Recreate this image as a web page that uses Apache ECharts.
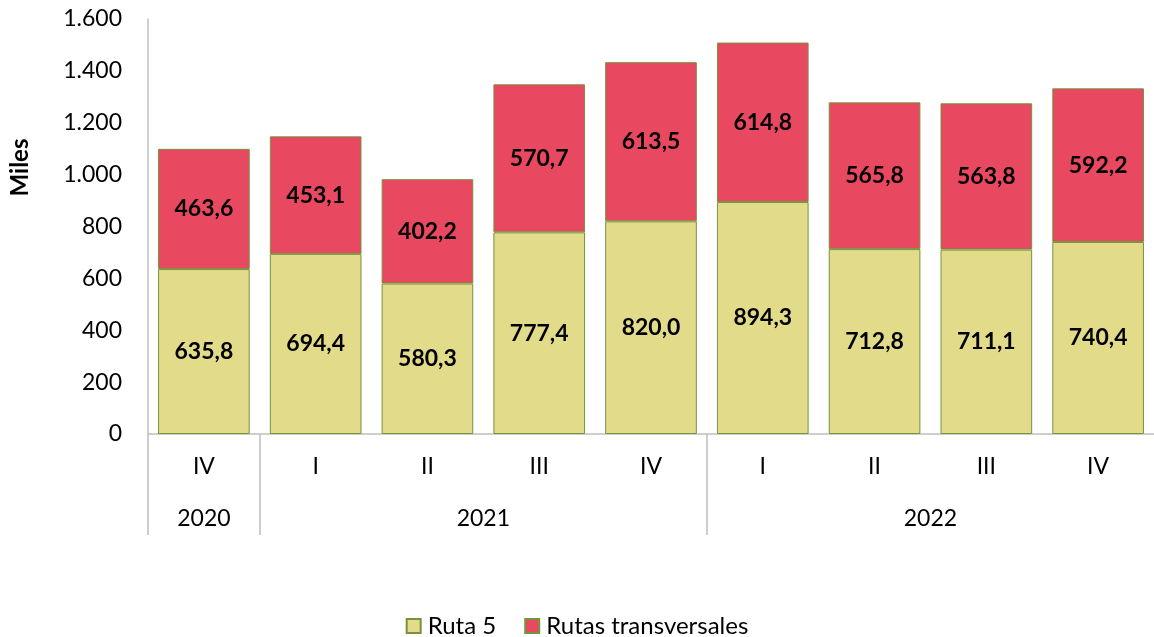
<!DOCTYPE html>
<html>
<head>
<meta charset="utf-8">
<script src="https://cdn.jsdelivr.net/npm/echarts@6/dist/echarts.min.js"></script>
<style>
  html, body { margin: 0; padding: 0; background: #fff; }
  #chart { width: 1154px; height: 637px; }
</style>
</head>
<body>
<div id="chart"></div>
<script>
const quarters = ['IV', 'I', 'II', 'III', 'IV', 'I', 'II', 'III', 'IV'];
const years = ['2020', '2021', '2022'];
const quartersPerYear = [1, 4, 4];
const ruta5 = [635.8, 694.4, 580.3, 777.4, 820.0, 894.3, 712.8, 711.1, 740.4];
const transversales = [463.6, 453.1, 402.2, 570.7, 613.5, 614.8, 565.8, 563.8, 592.2];
const yTicks = [0, 200, 400, 600, 800, 1000, 1200, 1400, 1600];

const font = 'Lato, "Open Sans", sans-serif';
const axisGrey = '#bfbfbf';

// group positions for the year level of the axis
const yearCenters = [];
const yearEdges = [-0.5];
let start = 0;
quartersPerYear.forEach(n => {
  yearCenters.push(start + (n - 1) / 2);
  start += n;
  yearEdges.push(start - 0.5);
});
yearEdges.pop();

const fmtDec = v => v.toFixed(1).replace('.', ',');
const fmtThousands = v => String(v).replace(/\B(?=(\d{3})+(?!\d))/g, '.');

const chart = echarts.init(document.getElementById('chart'));
chart.setOption({
  animation: false,
  textStyle: { fontFamily: font },
  grid: { left: 147, right: -10, top: 19, bottom: 203 },
  legend: {
    bottom: -1,
    left: 'center',
    padding: 0,
    icon: 'rect',
    itemWidth: 14,
    itemHeight: 14,
    itemGap: 28,
    textStyle: { fontSize: 24, color: '#000', fontFamily: font, padding: [0, 0, 0, 2] },
    data: ['Ruta 5', 'Rutas transversales']
  },
  xAxis: [
    {
      type: 'category',
      data: quarters,
      position: 'bottom',
      axisLine: { show: true, lineStyle: { color: axisGrey, width: 1.5 } },
      axisTick: { show: false },
      axisLabel: { fontSize: 23, color: '#000', margin: 21, interval: 0 }
    },
    {
      type: 'value',
      position: 'bottom',
      min: -0.5,
      max: quarters.length - 0.5,
      axisLine: { show: false },
      splitLine: { show: false },
      axisTick: {
        show: true,
        customValues: yearEdges,
        length: 101,
        lineStyle: { color: axisGrey, width: 1.5 }
      },
      axisLabel: {
        customValues: yearCenters,
        fontSize: 23,
        color: '#000',
        margin: 73,
        formatter: v => years[yearCenters.indexOf(v)]
      }
    }
  ],
  yAxis: {
    type: 'value',
    min: yTicks[0],
    max: yTicks[yTicks.length - 1],
    interval: 200,
    name: 'Miles',
    nameLocation: 'middle',
    nameRotate: 90,
    nameGap: 116,
    nameTextStyle: { fontSize: 24, fontWeight: 'bold', color: '#000', padding: [0, 0, 0, 118] },
    axisLine: { show: true, onZero: false, lineStyle: { color: axisGrey, width: 1.5 } },
    axisTick: { show: false },
    splitLine: { show: false },
    axisLabel: { fontSize: 23, color: '#000', margin: 26, formatter: fmtThousands }
  },
  series: [
    {
      name: 'Ruta 5',
      type: 'bar',
      stack: 'total',
      barCategoryGap: '18%',
      data: ruta5,
      itemStyle: { color: '#e2db8a', borderColor: '#77933c', borderWidth: 1 },
      label: {
        show: true,
        position: 'inside',
        fontSize: 23,
        fontWeight: 'bold',
        color: '#000',
        formatter: p => fmtDec(p.value)
      }
    },
    {
      name: 'Rutas transversales',
      type: 'bar',
      stack: 'total',
      barCategoryGap: '18%',
      data: transversales,
      itemStyle: { color: '#e84860', borderColor: '#77933c', borderWidth: 1 },
      label: {
        show: true,
        position: 'inside',
        fontSize: 23,
        fontWeight: 'bold',
        color: '#000',
        formatter: p => fmtDec(p.value)
      }
    }
  ]
});
</script>
</body>
</html>
